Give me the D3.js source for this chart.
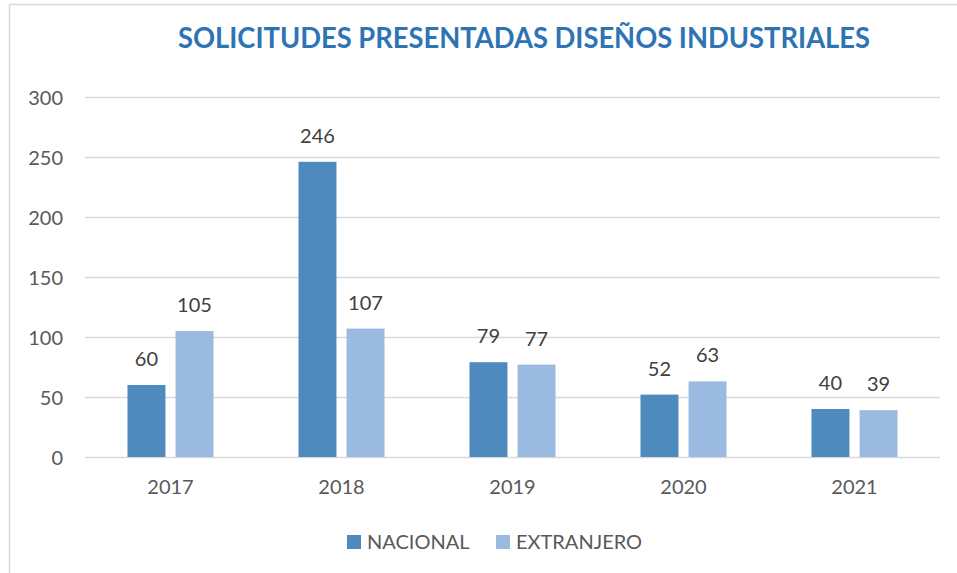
<!DOCTYPE html>
<html>
<head>
<meta charset="utf-8">
<script src="https://cdn.jsdelivr.net/npm/d3@7"></script>
<style>
  html, body { margin: 0; padding: 0; background: #ffffff; }
  svg { display: block; }
</style>
</head>
<body>
<svg id="chart" width="957" height="573"></svg>
<script>
const title = "SOLICITUDES PRESENTADAS DISEÑOS INDUSTRIALES";
const years = ["2017", "2018", "2019", "2020", "2021"];
const seriesNames = ["NACIONAL", "EXTRANJERO"];
const nacional = [60, 246, 79, 52, 40];
const extranjero = [105, 107, 77, 63, 39];
const yTicks = [0, 50, 100, 150, 200, 250, 300];
const colors = ["#4F8ABE", "#9BBAE0"];

const svg = d3.select("#chart");
const W = 957, H = 573;
const font = "Lato, 'Open Sans', sans-serif";

// outer frame (light gray)
svg.append("line").attr("x1", 9.5).attr("x2", 9.5).attr("y1", 4.5).attr("y2", H)
  .attr("stroke", "#d9d9d9").attr("stroke-width", 1.5);
svg.append("line").attr("x1", 9.5).attr("x2", W).attr("y1", 4.5).attr("y2", 4.5)
  .attr("stroke", "#d9d9d9").attr("stroke-width", 1.5);

// title
svg.append("text")
  .attr("x", 524).attr("y", 48.3)
  .attr("text-anchor", "middle")
  .attr("font-family", font).attr("font-weight", "bold").attr("font-size", 29)
  .attr("fill", "#2E74B5")
  .attr("textLength", 692).attr("lengthAdjust", "spacingAndGlyphs")
  .text(title);

const x0 = d3.scaleBand().domain(years).range([85, 940]).paddingInner(0.497).paddingOuter(0.2485);
const x1 = d3.scaleBand().domain(seriesNames).range([0, x0.bandwidth()]).paddingInner(0.21);
const y = d3.scaleLinear().domain([0, 300]).range([457, 97]);

// gridlines
const yAxis = d3.axisLeft(y).tickValues(yTicks).tickSize(-(940 - 85)).tickPadding(22).tickFormat(d3.format("d"));
const gy = svg.append("g").attr("transform", "translate(85,0)").call(yAxis);
gy.select(".domain").remove();
gy.selectAll(".tick line").attr("stroke", "#d9d9d9").attr("stroke-width", 1.5);
gy.selectAll(".tick text").attr("font-family", font).attr("font-size", 20).attr("fill", "#595959")
  .attr("dy", "0.36em");

// x axis labels
const xAxis = d3.axisBottom(x0).tickSize(0).tickPadding(23);
const gx = svg.append("g").attr("transform", "translate(0,457)").call(xAxis);
gx.select(".domain").remove();
gx.selectAll(".tick text").attr("font-family", font).attr("font-size", 20).attr("fill", "#595959");

// bars
const data = years.map((yr, i) => ({ year: yr, values: [
  { key: seriesNames[0], value: nacional[i], color: colors[0] },
  { key: seriesNames[1], value: extranjero[i], color: colors[1] }
]}));

const groups = svg.append("g").selectAll("g").data(data).join("g")
  .attr("transform", d => `translate(${x0(d.year)},0)`);

groups.selectAll("rect").data(d => d.values).join("rect")
  .attr("x", d => x1(d.key))
  .attr("width", x1.bandwidth())
  .attr("y", d => y(d.value))
  .attr("height", d => y(0) - y(d.value))
  .attr("fill", d => d.color);

groups.selectAll("text").data(d => d.values).join("text")
  .attr("x", d => x1(d.key) + x1.bandwidth() / 2)
  .attr("y", d => y(d.value) - 19)
  .attr("text-anchor", "middle")
  .attr("font-family", font).attr("font-size", 20).attr("fill", "#404040")
  .text(d => d.value);

// legend
const legendItems = [
  { key: seriesNames[0], color: colors[0], x: 347 },
  { key: seriesNames[1], color: colors[1], x: 496 }
];
const lg = svg.append("g");
legendItems.forEach(it => {
  lg.append("rect").attr("x", it.x).attr("y", 535).attr("width", 14).attr("height", 14).attr("fill", it.color);
  lg.append("text").attr("x", it.x + 20).attr("y", 549)
    .attr("font-family", font).attr("font-size", 20).attr("fill", "#595959")
    .text(it.key);
});
</script>
</body>
</html>
